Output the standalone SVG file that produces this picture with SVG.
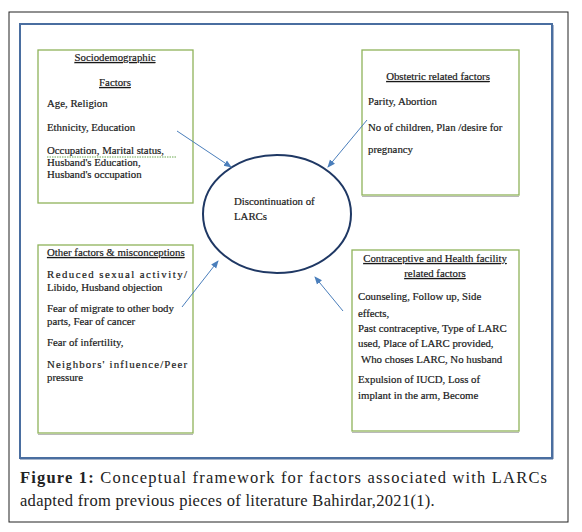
<svg xmlns="http://www.w3.org/2000/svg" width="582" height="532" viewBox="0 0 582 532">
<style>
.t{font-family:"Liberation Serif","Times New Roman",serif;font-size:10.8px;fill:#1a1a1a;stroke:#1a1a1a;stroke-width:0.2}
.h{text-decoration:underline}
.c{text-anchor:middle}
.box{fill:#fff;stroke:#8fb35a;stroke-width:1.3}
.sh{fill:none;stroke:#b9b9b9;stroke-width:1.2}
.cap{font-family:"Liberation Serif","Times New Roman",serif;font-size:16.5px;fill:#222}
.ar{fill:none;stroke:#4a7ebb;stroke-width:1;marker-end:url(#ah)}
</style>
<defs>
<marker id="ah" markerWidth="8" markerHeight="8" refX="7" refY="4" orient="auto" markerUnits="userSpaceOnUse">
<path d="M0,0.8 L8,4 L0,7.2 Z" fill="#4a7ebb"/>
</marker>
</defs>
<rect x="0" y="0" width="582" height="532" fill="#fff"/>
<rect x="9" y="12" width="559" height="510" fill="none" stroke="#222" stroke-width="1"/>
<rect x="20" y="24" width="532" height="434" fill="none" stroke="#4a6ea0" stroke-width="2"/>
<line x1="20" y1="459.5" x2="553" y2="459.5" stroke="#a8b6cc" stroke-width="1"/>
<line x1="553.5" y1="25" x2="553.5" y2="459" stroke="#a8b6cc" stroke-width="1"/>

<g id="sociodemographic">
<rect class="box" x="38" y="50" width="155" height="153"/>
<text class="t h c" x="115" y="61">Sociodemographic</text>
<text class="t h c" x="115" y="86">Factors</text>
<text class="t" x="47" y="107">Age, Religion</text>
<text class="t" x="47" y="131">Ethnicity, Education</text>
<text class="t" x="47" y="154">Occupation, Marital status,</text>
<line x1="47" y1="157" x2="176" y2="157" stroke="#6aa84f" stroke-width="1" stroke-dasharray="1.5,1"/>
<text class="t" x="47" y="166">Husband's Education,</text>
<text class="t" x="47" y="178">Husband's occupation</text>
</g>

<g id="obstetric">
<rect class="box" x="362" y="50" width="157" height="145"/>
<line class="sh" x1="362" y1="196.5" x2="519" y2="196.5"/>
<text class="t h c" x="438" y="80">Obstetric related factors</text>
<text class="t" x="368" y="105">Parity, Abortion</text>
<text class="t" x="368" y="131">No of children, Plan /desire for</text>
<text class="t" x="368" y="153">pregnancy</text>
</g>

<g id="other">
<rect class="box" x="38" y="245" width="155" height="188"/>
<line class="sh" x1="38" y1="434.5" x2="193" y2="434.5"/>
<text class="t h" x="47" y="256">Other factors &amp; misconceptions</text>
<text class="t" x="47" y="278" textLength="140" lengthAdjust="spacing">Reduced sexual activity/</text>
<text class="t" x="47" y="291">Libido, Husband objection</text>
<text class="t" x="47" y="312">Fear of migrate to other body</text>
<text class="t" x="47" y="325">parts, Fear of cancer</text>
<text class="t" x="47" y="346">Fear of infertility,</text>
<text class="t" x="47" y="368" textLength="140" lengthAdjust="spacing">Neighbors' influence/Peer</text>
<text class="t" x="47" y="381">pressure</text>
</g>

<g id="contraceptive">
<rect class="box" x="352" y="250" width="167" height="181"/>
<line class="sh" x1="352" y1="432.5" x2="519" y2="432.5"/>
<text class="t h c" x="435" y="262">Contraceptive and Health facility</text>
<text class="t h c" x="435" y="277">related factors</text>
<text class="t" x="358" y="300">Counseling, Follow up, Side</text>
<text class="t" x="358" y="317">effects,</text>
<text class="t" x="358" y="332">Past contraceptive, Type of LARC</text>
<text class="t" x="358" y="347">used, Place of LARC provided,</text>
<text class="t" x="361" y="363">Who choses LARC, No husband</text>
<text class="t" x="358" y="383">Expulsion of IUCD, Loss of</text>
<text class="t" x="358" y="399">implant in the arm, Become</text>
</g>

<g id="discontinuation">
<ellipse cx="277" cy="214" rx="74" ry="59" fill="#fff" stroke="#1f3864" stroke-width="2"/>
<text class="t" x="234" y="205">Discontinuation of</text>
<text class="t" x="234" y="220">LARCs</text>
</g>

<g id="connectors">
<line class="ar" x1="177" y1="131" x2="231" y2="167"/>
<line class="ar" x1="367" y1="120" x2="328" y2="167"/>
<line class="ar" x1="182" y1="307" x2="218" y2="261"/>
<line class="ar" x1="343" y1="311" x2="315" y2="277"/>
</g>

<g id="caption">
<text class="cap" x="20" y="483" textLength="527" lengthAdjust="spacing"><tspan font-weight="bold">Figure 1:</tspan> Conceptual framework for factors associated with LARCs</text>
<text class="cap" x="20" y="506" letter-spacing="0.3">adapted from previous pieces of literature Bahirdar,2021(1).</text>
</g>
</svg>
